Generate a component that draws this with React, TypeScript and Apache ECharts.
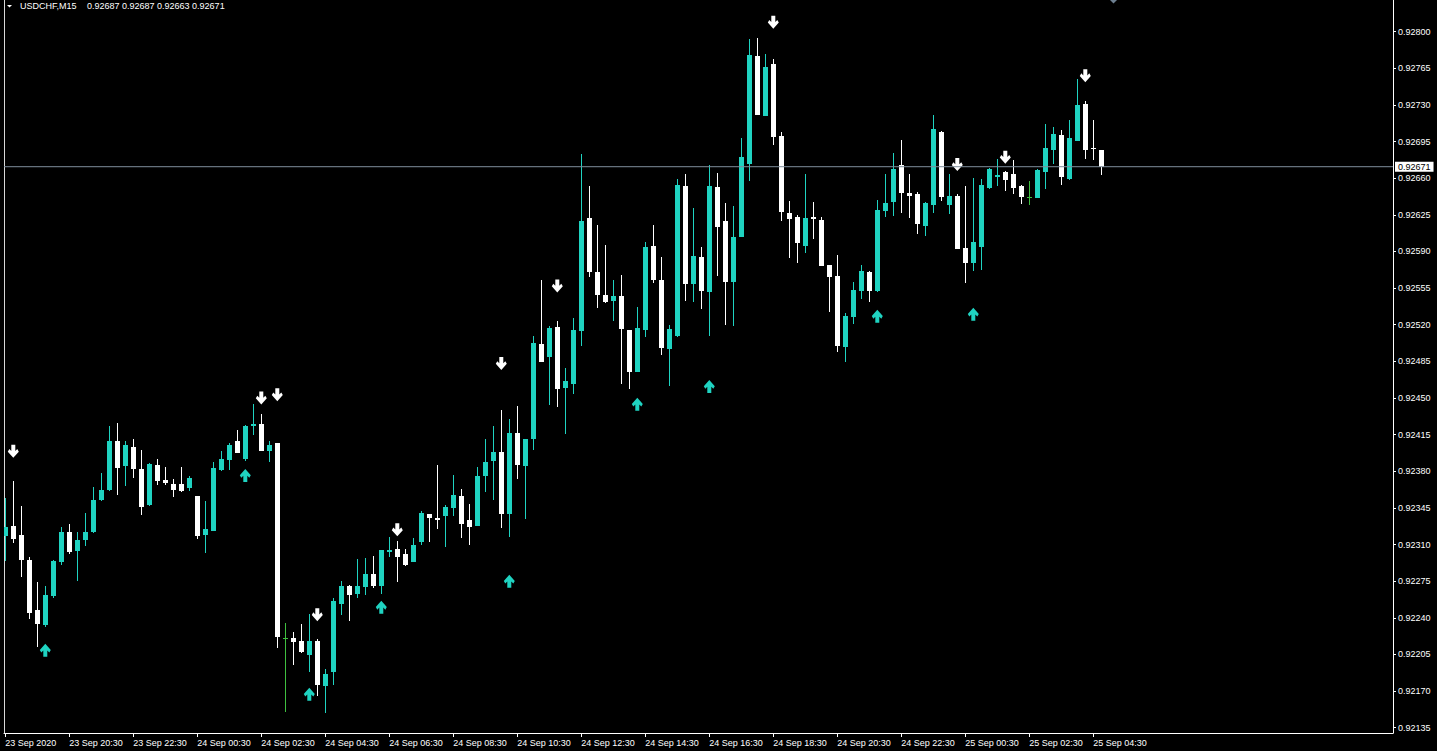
import React, { useEffect, useRef } from "react";
import * as echarts from "echarts";

// ---- data (USDCHF M15, 23 Sep 18:30 .. 25 Sep 04:45) ----
const opens = [0.92318,0.92328,0.92319,0.92295,0.92247,0.92233,0.92261,0.92293,0.92322,0.92304,0.92314,0.92322,0.92353,0.92362,0.92409,0.92385,0.92403,0.92382,0.92348,0.92386,0.92372,0.92368,0.92368,0.92364,0.92356,0.92319,0.92323,0.92381,0.92391,0.92409,0.92392,0.92423,0.92425,0.92399,0.92407,0.92221,0.92221,0.92218,0.92204,0.92218,0.92175,0.92188,0.92253,0.92270,0.92263,0.92269,0.92282,0.92270,0.92303,0.92306,0.92301,0.92293,0.92312,0.92339,0.92335,0.92337,0.92345,0.92356,0.92333,0.92328,0.92375,0.92390,0.92398,0.92339,0.92417,0.92385,0.92411,0.92502,0.92489,0.92518,0.92460,0.92463,0.92514,0.92622,0.92570,0.92548,0.92543,0.92547,0.92515,0.92475,0.92515,0.92595,0.92563,0.92497,0.92509,0.92653,0.92559,0.92585,0.92551,0.92652,0.92619,0.92561,0.92604,0.92674,0.92777,0.92719,0.92769,0.92700,0.92627,0.92623,0.92595,0.92623,0.92620,0.92577,0.92567,0.92499,0.92527,0.92552,0.92570,0.92552,0.92629,0.92637,0.92673,0.92646,0.92645,0.92614,0.92634,0.92704,0.92634,0.92643,0.92593,0.92579,0.92594,0.92651,0.92661,0.92666,0.92664,0.92653,0.92642,0.92641,0.92666,0.92687,0.92701,0.92659,0.92696,0.92731,0.92689,0.92687];
const highs = [0.92354,0.92371,0.92347,0.92298,0.92274,0.92270,0.92295,0.92327,0.92330,0.92322,0.92340,0.92365,0.92378,0.92423,0.92426,0.92409,0.92411,0.92400,0.92388,0.92392,0.92384,0.92373,0.92384,0.92375,0.92356,0.92352,0.92389,0.92399,0.92407,0.92419,0.92424,0.92444,0.92435,0.92409,0.92407,0.92235,0.92226,0.92234,0.92244,0.92220,0.92191,0.92259,0.92275,0.92271,0.92296,0.92297,0.92299,0.92305,0.92317,0.92313,0.92306,0.92316,0.92342,0.92339,0.92386,0.92348,0.92376,0.92363,0.92349,0.92384,0.92411,0.92423,0.92439,0.92430,0.92442,0.92411,0.92509,0.92563,0.92519,0.92524,0.92479,0.92526,0.92683,0.92653,0.92615,0.92596,0.92563,0.92568,0.92515,0.92537,0.92599,0.92615,0.92585,0.92520,0.92659,0.92664,0.92632,0.92594,0.92673,0.92665,0.92636,0.92633,0.92698,0.92793,0.92794,0.92779,0.92774,0.92704,0.92638,0.92625,0.92664,0.92637,0.92623,0.92577,0.92587,0.92531,0.92561,0.92577,0.92571,0.92639,0.92664,0.92684,0.92697,0.92664,0.92647,0.92637,0.92720,0.92705,0.92664,0.92645,0.92653,0.92660,0.92659,0.92670,0.92678,0.92667,0.92677,0.92654,0.92657,0.92669,0.92712,0.92709,0.92706,0.92716,0.92755,0.92734,0.92716,0.92687];
const lows = [0.92294,0.92311,0.92279,0.92239,0.92212,0.92231,0.92259,0.92290,0.92301,0.92275,0.92309,0.92321,0.92352,0.92361,0.92357,0.92366,0.92374,0.92338,0.92347,0.92367,0.92367,0.92355,0.92360,0.92361,0.92315,0.92302,0.92323,0.92380,0.92381,0.92397,0.92390,0.92415,0.92399,0.92389,0.92211,0.92150,0.92195,0.92206,0.92188,0.92165,0.92149,0.92176,0.92243,0.92237,0.92259,0.92262,0.92268,0.92263,0.92298,0.92274,0.92289,0.92293,0.92310,0.92312,0.92325,0.92308,0.92337,0.92316,0.92310,0.92328,0.92360,0.92353,0.92326,0.92317,0.92373,0.92334,0.92400,0.92484,0.92443,0.92441,0.92416,0.92454,0.92500,0.92566,0.92536,0.92541,0.92524,0.92463,0.92459,0.92475,0.92508,0.92560,0.92491,0.92461,0.92508,0.92543,0.92542,0.92535,0.92509,0.92567,0.92520,0.92519,0.92604,0.92657,0.92720,0.92719,0.92692,0.92619,0.92584,0.92579,0.92589,0.92602,0.92576,0.92532,0.92494,0.92484,0.92521,0.92545,0.92542,0.92551,0.92623,0.92624,0.92627,0.92622,0.92607,0.92605,0.92627,0.92638,0.92626,0.92592,0.92560,0.92571,0.92572,0.92650,0.92653,0.92648,0.92645,0.92635,0.92634,0.92641,0.92650,0.92674,0.92654,0.92658,0.92696,0.92678,0.92677,0.92663];
const closes = [0.92327,0.92315,0.92295,0.92245,0.92234,0.92262,0.92294,0.92322,0.92303,0.92314,0.92322,0.92353,0.92362,0.92409,0.92383,0.92405,0.92382,0.92346,0.92387,0.92371,0.92369,0.92362,0.92361,0.92374,0.92318,0.92325,0.92383,0.92392,0.92405,0.92397,0.92423,0.92425,0.92399,0.92405,0.92222,0.92221,0.92217,0.92207,0.92218,0.92176,0.92186,0.92256,0.92270,0.92262,0.92270,0.92282,0.92270,0.92305,0.92305,0.92298,0.92290,0.92310,0.92340,0.92335,0.92333,0.92346,0.92357,0.92330,0.92327,0.92375,0.92389,0.92398,0.92339,0.92417,0.92386,0.92411,0.92503,0.92484,0.92517,0.92459,0.92466,0.92515,0.92619,0.92570,0.92548,0.92542,0.92547,0.92516,0.92475,0.92517,0.92594,0.92563,0.92498,0.92516,0.92654,0.92559,0.92586,0.92552,0.92653,0.92613,0.92561,0.92604,0.92680,0.92778,0.92720,0.92766,0.92699,0.92628,0.92621,0.92598,0.92622,0.92621,0.92576,0.92566,0.92500,0.92528,0.92553,0.92571,0.92552,0.92630,0.92636,0.92669,0.92646,0.92643,0.92616,0.92636,0.92707,0.92642,0.92643,0.92592,0.92579,0.92599,0.92654,0.92669,0.92663,0.92658,0.92651,0.92642,0.92642,0.92668,0.92689,0.92702,0.92661,0.92698,0.92730,0.92687,0.92688,0.92671];

// fractal arrows
const downIdx = [1, 32, 34, 39, 49, 62, 69, 96, 119, 125, 135];
const downPrice = [0.92399, 0.9245, 0.92453, 0.92243, 0.92324, 0.92483, 0.92557, 0.92809, 0.92673, 0.9268, 0.92758];
const upIdx = [5, 30, 38, 47, 63, 79, 88, 109, 121];
const upPrice = [0.92209, 0.92376, 0.92167, 0.9225, 0.92275, 0.92444, 0.92461, 0.92528, 0.9253];

// axis labels
const xLabelIdx = [0, 8, 16, 24, 32, 40, 48, 56, 64, 72, 80, 88, 96, 104, 112, 120, 128, 136];
const xLabels = ["23 Sep 2020", "23 Sep 20:30", "23 Sep 22:30", "24 Sep 00:30", "24 Sep 02:30", "24 Sep 04:30", "24 Sep 06:30", "24 Sep 08:30", "24 Sep 10:30", "24 Sep 12:30", "24 Sep 14:30", "24 Sep 16:30", "24 Sep 18:30", "24 Sep 20:30", "24 Sep 22:30", "25 Sep 00:30", "25 Sep 02:30", "25 Sep 04:30"];
const yTicks = [0.92135, 0.9217, 0.92205, 0.9224, 0.92275, 0.9231, 0.92345, 0.9238, 0.92415, 0.9245, 0.92485, 0.9252, 0.92555, 0.9259, 0.92625, 0.9266, 0.92695, 0.9273, 0.92765, 0.928];

const SYMBOL = "USDCHF,M15";

const BULL = "#1fd3c1";
const BEAR = "#ffffff";
const DOJI = "#3fbf3f";
const FONT = "'Liberation Sans', Arial, sans-serif";
const X_MIN = -0.1625;
const X_MAX = 173.4625;

const DOWN_PATH = "path://M3.5,0 L7.5,0 L7.5,6 L9.5,4 L11,6.5 L5.5,12.5 L0,6.5 L1.5,4 L3.5,6 Z";
const UP_PATH = "path://M3.5,12.5 L7.5,12.5 L7.5,6.5 L9.5,8.5 L11,6 L5.5,0 L0,6 L1.5,8.5 L3.5,6.5 Z";

export default function App() {
  const ref = useRef<HTMLDivElement>(null);
  useEffect(() => {
    document.body.style.margin = "0";
    document.body.style.background = "#000";
    const chart = echarts.init(ref.current!, null, { renderer: "svg" });
    const candles = opens.map((o, i) => [i, o, closes[i], lows[i], highs[i]]);
    const n = opens.length;
    const last = n - 1;
    const fmt = (v: number) => v.toFixed(5);
    chart.setOption({
      animation: false,
      backgroundColor: "#000",
      grid: { left: 4, right: 44, top: 0, bottom: 18, outerBoundsMode: "none" },
      xAxis: {
        type: "value",
        min: X_MIN,
        max: X_MAX,
        splitLine: { show: false },
        axisLine: { show: true, onZero: false, lineStyle: { color: "#ffffff", width: 1 } },
        axisTick: { show: true, length: 4, customValues: xLabelIdx, lineStyle: { color: "#ffffff" } },
        axisLabel: {
          customValues: xLabelIdx,
          formatter: (v: number) => xLabels[xLabelIdx.indexOf(Math.round(v))] ?? "",
          align: "left",
          color: "#ffffff",
          fontSize: 9,
          fontFamily: FONT,
          margin: 5,
        },
      },
      yAxis: {
        type: "value",
        position: "right",
        min: 0.921299,
        max: 0.928303,
        splitLine: { show: false },
        axisLine: { show: true, onZero: false, lineStyle: { color: "#ffffff", width: 1 } },
        axisTick: { show: true, length: 3, customValues: yTicks, lineStyle: { color: "#ffffff" } },
        axisLabel: {
          customValues: yTicks,
          formatter: (v: number) => fmt(v),
          color: "#ffffff",
          fontSize: 9,
          fontFamily: FONT,
          margin: 5,
        },
      },
      series: [
        {
          type: "line",
          data: [[X_MIN, closes[last]], [X_MAX, closes[last]]],
          symbol: "none",
          showSymbol: false,
          silent: true,
          lineStyle: { color: "#7f8e9c", width: 1 },
          endLabel: {
            show: true,
            formatter: () => fmt(closes[last]),
            backgroundColor: "#ffffff",
            color: "#000000",
            fontSize: 9,
            fontFamily: FONT,
            padding: [1, 3, 0, 3],
            distance: 2,
          },
        },
        {
          type: "custom",
          data: candles,
          encode: { x: 0, y: [1, 2, 3, 4] },
          clip: true,
          renderItem: (params: any, api: any) => {
            const i = api.value(0);
            const o = api.value(1);
            const c = api.value(2);
            const l = api.value(3);
            const h = api.value(4);
            const x = Math.floor(api.coord([i, o])[0]);
            const yo = api.coord([i, o])[1];
            const yc = api.coord([i, c])[1];
            const yl = Math.round(api.coord([i, l])[1]);
            const yh = Math.round(api.coord([i, h])[1]);
            const color = o === c ? DOJI : c > o ? BULL : BEAR;
            const top = Math.round(Math.min(yo, yc));
            const bot = Math.round(Math.max(yo, yc));
            return {
              type: "group",
              children: [
                { type: "rect", shape: { x: x, y: yh, width: 1, height: Math.max(1, yl - yh) }, style: { fill: color } },
                { type: "rect", shape: { x: x - 2, y: top, width: 5, height: Math.max(1, bot - top) }, style: { fill: color } },
              ],
            };
          },
        },
        {
          type: "scatter",
          data: downIdx.map((d, k) => [d, downPrice[k]]),
          symbol: DOWN_PATH,
          symbolSize: [11, 13],
          itemStyle: { color: "#ffffff", opacity: 1 },
          silent: true,
        },
        {
          type: "scatter",
          data: upIdx.map((d, k) => [d, upPrice[k]]),
          symbol: UP_PATH,
          symbolSize: [11, 13],
          itemStyle: { color: BULL, opacity: 1 },
          silent: true,
        },
      ],
      graphic: [
        { type: "line", shape: { x1: 4.5, y1: 0, x2: 4.5, y2: 733 }, style: { stroke: "#d8d8d8", lineWidth: 1 } },
        { type: "polygon", shape: { points: [[7, 5], [12, 5], [9.5, 7.5]] }, style: { fill: "#ffffff" } },
        {
          type: "text", x: 20, y: 6,
          style: { text: SYMBOL, fill: "#ffffff", font: `9px ${FONT}`, verticalAlign: "middle" },
        },
        {
          type: "text", x: 87, y: 6,
          style: {
            text: [opens[last], highs[last], lows[last], closes[last]].map(fmt).join(" "),
            fill: "#ffffff", font: `9px ${FONT}`, verticalAlign: "middle",
          },
        },
        { type: "polygon", shape: { points: [[1110, 0], [1117, 0], [1113.5, 3.5]] }, style: { fill: "#6d7f90" } },
      ],
    });
    return () => chart.dispose();
  }, []);
  return <div ref={ref} style={{ position: "absolute", left: 0, top: 0, width: 1437, height: 751 }} />;
}
